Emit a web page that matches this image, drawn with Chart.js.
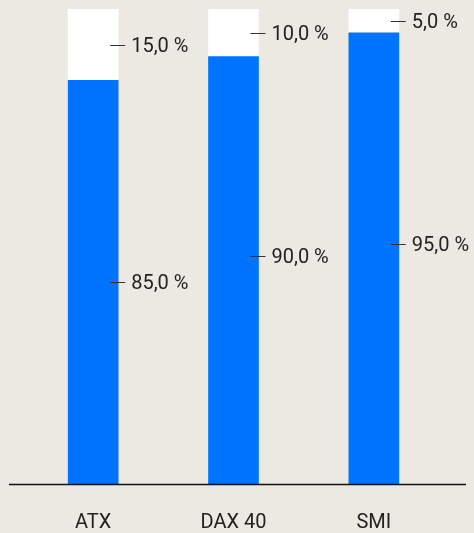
<!DOCTYPE html>
<html>
<head>
<meta charset="utf-8">
<script src="https://cdn.jsdelivr.net/npm/chart.js@4"></script>
<style>
  html, body { margin: 0; padding: 0; background: #ece9e3; }
  #wrap { width: 474px; height: 533px; }
</style>
</head>
<body>
<div id="wrap"><canvas id="chart"></canvas></div>
<script>
const categories = ['ATX', 'DAX 40', 'SMI'];
const lowerShare = [85, 90, 95];
const upperShare = [15, 10, 5];

const fmt = v => v.toFixed(1).replace('.', ',') + ' %';

// labels with small tick mark to the right of each segment
// (lower labels of the 2nd/3rd bar sit a little above the middle in the original)
const lowerLift = [0, 14, 14];
const segLabels = {
  id: 'segLabels',
  afterDatasetsDraw(chart) {
    const ctx = chart.ctx;
    ctx.save();
    ctx.font = '20px Roboto';
    ctx.fillStyle = '#222';
    ctx.strokeStyle = '#333';
    ctx.lineWidth = 1;
    ctx.textBaseline = 'middle';
    chart.data.datasets.forEach((ds, di) => {
      chart.getDatasetMeta(di).data.forEach((bar, i) => {
        const right = bar.x + bar.width / 2;
        const lift = di === 0 ? lowerLift[i] : 0;
        const y = Math.round((bar.y + bar.base) / 2) - lift + 0.5;
        ctx.beginPath();
        ctx.moveTo(right - 8, y);
        ctx.lineTo(right + 7, y);
        ctx.stroke();
        ctx.fillText(fmt(ds.data[i]), right + 13, y + 1);
      });
    });
    ctx.restore();
  }
};

// baseline running across nearly the whole width
const baseLine = {
  id: 'baseLine',
  afterDatasetsDraw(chart) {
    const ctx = chart.ctx;
    const y = Math.round(chart.scales.y.getPixelForValue(0)) + 0.5;
    ctx.save();
    ctx.strokeStyle = '#111';
    ctx.lineWidth = 1.5;
    ctx.beginPath();
    ctx.moveTo(9, y);
    ctx.lineTo(466, y);
    ctx.stroke();
    ctx.restore();
  }
};

new Chart(document.getElementById('chart'), {
  type: 'bar',
  data: {
    labels: categories,
    datasets: [
      { data: lowerShare, backgroundColor: '#0074ff' },
      { data: upperShare, backgroundColor: '#ffffff' }
    ]
  },
  options: {
    responsive: true,
    maintainAspectRatio: false,
    animation: false,
    layout: { padding: { top: 9, left: 23, right: 30, bottom: 0 } },
    datasets: { bar: { barThickness: 50, borderWidth: 0 } },
    plugins: { legend: { display: false }, tooltip: { enabled: false } },
    scales: {
      x: {
        stacked: true,
        grid: { display: false, drawTicks: false },
        border: { display: false },
        ticks: { color: '#222', font: { family: 'Roboto', size: 20 }, padding: 27 },
        afterFit(scale) { scale.height = 49; }
      },
      y: {
        stacked: true,
        display: false,
        min: 0,
        max: 100
      }
    }
  },
  plugins: [segLabels, baseLine]
});
</script>
</body>
</html>
